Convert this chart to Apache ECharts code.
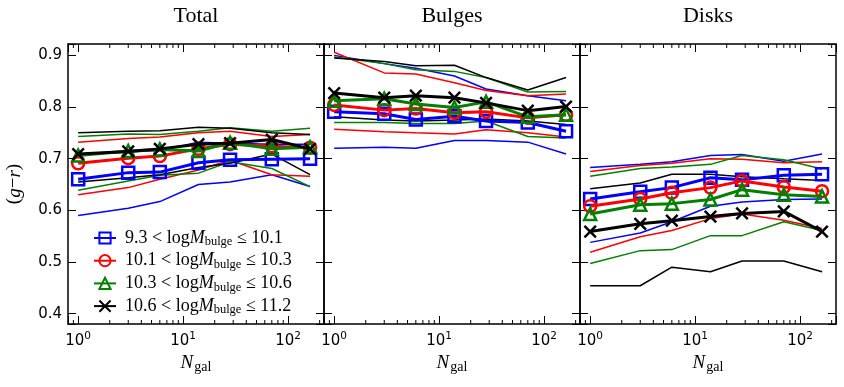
<!DOCTYPE html>
<html><head><meta charset="utf-8">
<script src="https://cdn.jsdelivr.net/npm/echarts@6/dist/echarts.min.js"></script>
<style>html,body{margin:0;padding:0;background:#fff}#c{width:844px;height:387px}</style>
</head><body><div id="c"></div>
<script>
// ---------- data ----------
const nGal = [1, 3, 6, 14, 28, 70, 162];
const panelTitles = ['Total', 'Bulges', 'Disks'];
const binEdges = [['9.3', '10.1'], ['10.1', '10.3'], ['10.3', '10.6'], ['10.6', '11.2']];
const xMajorTicks = [1, 10, 100];
const xMinorTicks = [0.9, 2, 3, 4, 5, 6, 7, 8, 9, 20, 30, 40, 50, 60, 70, 80, 90, 200];
const yTicks = [0.4, 0.5, 0.6, 0.7, 0.8, 0.9];
const xRange = [0.8, 220];
const yRange = [0.38, 0.922];

// Total
const total_b1_mid = [0.660, 0.673, 0.674, 0.692, 0.698, 0.699, 0.700];
const total_b1_hi  = [0.708, 0.713, 0.716, 0.732, 0.730, 0.728, 0.728];
const total_b1_lo  = [0.590, 0.604, 0.617, 0.650, 0.655, 0.669, 0.646];
const total_b2_mid = [0.691, 0.701, 0.705, 0.719, 0.728, 0.724, 0.721];
const total_b2_hi  = [0.732, 0.739, 0.742, 0.750, 0.753, 0.743, 0.747];
const total_b2_lo  = [0.630, 0.644, 0.660, 0.678, 0.697, 0.669, 0.666];
const total_b3_mid = [0.706, 0.715, 0.718, 0.715, 0.731, 0.719, 0.722];
const total_b3_hi  = [0.743, 0.748, 0.747, 0.753, 0.760, 0.753, 0.759];
const total_b3_lo  = [0.639, 0.657, 0.668, 0.672, 0.694, 0.681, 0.646];
const total_b4_mid = [0.709, 0.714, 0.719, 0.728, 0.730, 0.737, 0.719];
const total_b4_hi  = [0.750, 0.753, 0.754, 0.761, 0.759, 0.750, 0.747];
const total_b4_lo  = [0.655, 0.663, 0.669, 0.683, 0.691, 0.709, 0.669];
// Bulges
const bulge_b1_mid = [0.791, 0.787, 0.776, 0.782, 0.773, 0.770, 0.753];
const bulge_b1_hi  = [0.900, 0.884, 0.875, 0.860, 0.835, 0.822, 0.812];
const bulge_b1_lo  = [0.720, 0.722, 0.720, 0.735, 0.735, 0.732, 0.709];
const bulge_b2_mid = [0.804, 0.794, 0.797, 0.789, 0.791, 0.779, 0.785];
const bulge_b2_hi  = [0.906, 0.866, 0.864, 0.847, 0.832, 0.822, 0.825];
const bulge_b2_lo  = [0.757, 0.752, 0.750, 0.748, 0.756, 0.750, 0.742];
const bulge_b3_mid = [0.812, 0.816, 0.806, 0.799, 0.810, 0.781, 0.785];
const bulge_b3_hi  = [0.897, 0.884, 0.872, 0.869, 0.857, 0.829, 0.830];
const bulge_b3_lo  = [0.770, 0.770, 0.768, 0.768, 0.773, 0.743, 0.740];
const bulge_b4_mid = [0.827, 0.818, 0.822, 0.818, 0.808, 0.793, 0.801];
const bulge_b4_hi  = [0.895, 0.888, 0.880, 0.881, 0.857, 0.833, 0.857];
const bulge_b4_lo  = [0.781, 0.775, 0.773, 0.775, 0.777, 0.773, 0.766];
// Disks
const disk_b1_mid = [0.622, 0.636, 0.644, 0.663, 0.659, 0.668, 0.670];
const disk_b1_hi  = [0.683, 0.689, 0.694, 0.706, 0.708, 0.695, 0.709];
const disk_b1_lo  = [0.538, 0.556, 0.578, 0.608, 0.616, 0.621, 0.622];
const disk_b2_mid = [0.608, 0.622, 0.634, 0.644, 0.657, 0.645, 0.637];
const disk_b2_hi  = [0.675, 0.687, 0.691, 0.700, 0.699, 0.692, 0.694];
const disk_b2_lo  = [0.519, 0.549, 0.561, 0.584, 0.593, 0.581, 0.565];
const disk_b3_mid = [0.593, 0.611, 0.613, 0.621, 0.640, 0.630, 0.627];
const disk_b3_hi  = [0.666, 0.681, 0.684, 0.689, 0.706, 0.698, 0.680];
const disk_b3_lo  = [0.497, 0.522, 0.524, 0.551, 0.551, 0.578, 0.561];
const disk_b4_mid = [0.559, 0.574, 0.580, 0.588, 0.594, 0.598, 0.559];
const disk_b4_hi  = [0.642, 0.653, 0.670, 0.670, 0.665, 0.661, 0.658];
const disk_b4_lo  = [0.454, 0.454, 0.490, 0.481, 0.502, 0.502, 0.481];

const panels = [
  [[total_b1_mid, total_b1_hi, total_b1_lo], [total_b2_mid, total_b2_hi, total_b2_lo],
   [total_b3_mid, total_b3_hi, total_b3_lo], [total_b4_mid, total_b4_hi, total_b4_lo]],
  [[bulge_b1_mid, bulge_b1_hi, bulge_b1_lo], [bulge_b2_mid, bulge_b2_hi, bulge_b2_lo],
   [bulge_b3_mid, bulge_b3_hi, bulge_b3_lo], [bulge_b4_mid, bulge_b4_hi, bulge_b4_lo]],
  [[disk_b1_mid, disk_b1_hi, disk_b1_lo], [disk_b2_mid, disk_b2_hi, disk_b2_lo],
   [disk_b3_mid, disk_b3_hi, disk_b3_lo], [disk_b4_mid, disk_b4_hi, disk_b4_lo]]
];

// ---------- styling ----------
const colors = ['#0000ff', '#ff0000', '#008000', '#000000'];
const symbols = ['rect', 'circle', 'triangle', 'path://M0,0L10,10M10,0L0,10'];
const serif = 'Liberation Serif';
const sans = 'DejaVu Sans';
const binNames = binEdges.map(e => e[0] + '<' + e[1]);

const chart = echarts.init(document.getElementById('c'), null, {renderer: 'canvas'});

const grids = [], xAxes = [], yAxes = [], series = [];
const panelLeft = 68, panelW = 256, panelTop = 33, panelH = 291;

function near(v, list) { return list.some(t => Math.abs(t - v) < 1e-6 * Math.max(1, Math.abs(t))); }

panels.forEach((bins, p) => {
  grids.push({left: panelLeft + panelW * p, top: panelTop, width: panelW, height: panelH, containLabel: false});
  const axisLine = {show: true, onZero: false, lineStyle: {color: '#000', width: 1.5}};
  const tick = {show: true, inside: true, length: 8, lineStyle: {color: '#000', width: 1}};
  xAxes.push({
    type: 'log', logBase: 10, gridIndex: p, position: 'bottom', min: xRange[0], max: xRange[1],
    axisLine, axisTick: tick, splitLine: {show: false},
    axisLabel: {
      margin: 7, color: '#000',
      formatter: v => {
        if (!near(v, xMajorTicks)) return '';
        return '{b|10}{s|' + Math.round(Math.log10(v)) + '}';
      },
      rich: {
        b: {fontFamily: sans, fontSize: 15, color: '#000'},
        s: {fontFamily: sans, fontSize: 10.5, color: '#000', padding: [0, 0, 9, 0]}
      }
    },
    name: '{i|N}{s|gal}', nameLocation: 'middle', nameGap: 19,
    nameTextStyle: {
      rich: {
        i: {fontFamily: serif, fontStyle: 'italic', fontSize: 19, color: '#000'},
        s: {fontFamily: serif, fontSize: 14, color: '#000', padding: [9, 0, 0, 1]}
      }
    }
  });
  xAxes.push({
    type: 'log', logBase: 10, gridIndex: p, position: 'top', min: xRange[0], max: xRange[1],
    axisLine, axisTick: tick, splitLine: {show: false}, axisLabel: {show: false},
    name: panelTitles[p], nameLocation: 'middle', nameGap: 17,
    nameTextStyle: {fontFamily: serif, fontSize: 22, color: '#000'}
  });
  yAxes.push({
    type: 'value', gridIndex: p, position: 'left', min: yRange[0], max: yRange[1], splitNumber: 5,
    axisLine, axisTick: tick, splitLine: {show: false},
    axisLabel: {
      show: p === 0, margin: 6, color: '#000', fontFamily: sans, fontSize: 15,
      formatter: v => near(v, yTicks) ? v.toFixed(1) : ''
    },
    name: p === 0 ? '{p|(}{i|g}{p|−}{i|r}{p|)}' : '', nameLocation: 'middle', nameGap: 44, nameRotate: 90,
    nameTextStyle: {
      rich: {
        p: {fontFamily: serif, fontSize: 19, color: '#000'},
        i: {fontFamily: serif, fontStyle: 'italic', fontSize: 19, color: '#000'}
      }
    }
  });
  yAxes.push({
    type: 'value', gridIndex: p, position: 'right', min: yRange[0], max: yRange[1], splitNumber: 5,
    axisLine, axisTick: tick, splitLine: {show: false}, axisLabel: {show: false}
  });

  // thin envelope lines
  bins.forEach((b, k) => {
    [1, 2].forEach(j => {
      series.push({
        type: 'line', name: 'env' + p + k + j, xAxisIndex: 2 * p, yAxisIndex: 2 * p,
        data: nGal.map((x, i) => [x, b[j][i]]),
        showSymbol: false, symbol: 'none', silent: true, z: 2,
        lineStyle: {color: colors[k], width: 1.5}
      });
    });
  });
  // thick median lines with markers
  bins.forEach((b, k) => {
    series.push({
      type: 'line', name: binNames[k], xAxisIndex: 2 * p, yAxisIndex: 2 * p,
      data: nGal.map((x, i) => [x, b[0][i]]),
      symbol: symbols[k], symbolSize: k === 3 ? 11.5 : 12, showSymbol: true, z: 3 + k,
      lineStyle: {color: colors[k], width: 3},
      itemStyle: {color: 'rgba(255,255,255,0)', borderColor: colors[k], borderWidth: 2.5},
      emphasis: {disabled: true}
    });
  });
  // minor ticks on log x axes (top and bottom)
  series.push({
    type: 'custom', name: 'minor' + p, xAxisIndex: 2 * p, yAxisIndex: 2 * p, silent: true, z: 10,
    data: xMinorTicks.map(v => [v, yRange[0]]),
    renderItem: (params, api) => {
      const x = api.coord([api.value(0), yRange[0]])[0];
      const yb = api.coord([api.value(0), yRange[0]])[1];
      const yt = api.coord([api.value(0), yRange[1]])[1];
      return {type: 'group', children: [
        {type: 'line', shape: {x1: x, y1: yb, x2: x, y2: yb - 4}, style: {stroke: '#000', lineWidth: 1}},
        {type: 'line', shape: {x1: x, y1: yt, x2: x, y2: yt + 4}, style: {stroke: '#000', lineWidth: 1}}
      ]};
    }
  });
});

chart.setOption({
  animation: false,
  backgroundColor: '#fff',
  grid: grids, xAxis: xAxes, yAxis: yAxes, series,
  legend: {
    data: binNames, orient: 'vertical', left: 88, top: 224,
    itemWidth: 22, itemHeight: 14, itemGap: 3.2, selectedMode: false,
    formatter: name => {
      const k = binNames.indexOf(name);
      return '{g|}{r|' + binEdges[k][0] + ' < log}{i|M}{s|bulge}{r| ≤ ' + binEdges[k][1] + '}';
    },
    textStyle: {
      rich: {
        g: {width: 4},
        r: {fontFamily: serif, fontSize: 18, color: '#000'},
        i: {fontFamily: serif, fontStyle: 'italic', fontSize: 18, color: '#000'},
        s: {fontFamily: serif, fontSize: 12.5, color: '#000', padding: [8, 0, 0, 0]}
      }
    }
  }
});
</script></body></html>
